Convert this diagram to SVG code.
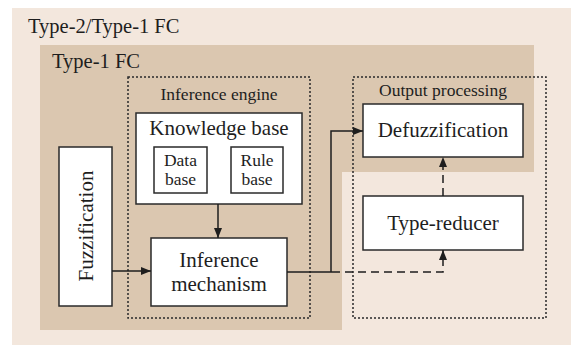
<svg xmlns="http://www.w3.org/2000/svg" width="571" height="345" viewBox="0 0 571 345">
<defs>
<style>
.box{fill:#fff;stroke:#2a2a2a;stroke-width:1.5}
.dot{fill:none;stroke:#2a2a2a;stroke-width:1.5;stroke-dasharray:2,2}
.t{font-family:"Liberation Serif","Times New Roman",serif;fill:#1e1e1e;text-anchor:middle}
.big{font-size:21px}
.sm{font-size:17.5px}
.lbl{font-family:"Liberation Serif","Times New Roman",serif;fill:#1e1e1e;font-size:20.5px}
.c{fill:none;stroke:#1e1e1e;stroke-width:1.5}
.dash{stroke-dasharray:8,5}
</style>
<marker id="ah" viewBox="0 0 10 8" refX="10" refY="4" markerWidth="10" markerHeight="8" markerUnits="userSpaceOnUse" orient="auto">
<path d="M0,0 L10,4 L0,8 Z" fill="#1e1e1e"/>
</marker>
</defs>
<g id="type2-region">
<rect x="12" y="8" width="559" height="337" fill="#f3e7dd"/>
<text class="lbl" x="28" y="33">Type-2/Type-1 FC</text>
</g>
<g id="type1-region">
<path d="M40,45 H534 V172 H342 V330 H40 Z" fill="#dbc7b0"/>
<text class="lbl" x="52" y="68">Type-1 FC</text>
</g>
<g id="inference-engine">
<rect class="dot" x="128" y="77" width="182" height="241"/>
<text class="t sm" x="219" y="100">Inference engine</text>
</g>
<g id="output-processing">
<rect class="dot" x="353" y="77" width="193" height="241"/>
<text class="t sm" x="443" y="96">Output processing</text>
</g>
<g id="knowledge-base">
<rect class="box" x="136" y="113" width="166" height="91"/>
<text class="t big" x="219" y="135">Knowledge base</text>
</g>
<g id="data-base">
<rect class="box" x="154" y="147" width="53" height="46"/>
<text class="t sm" x="180.5" y="166">Data</text>
<text class="t sm" x="180.5" y="185">base</text>
</g>
<g id="rule-base">
<rect class="box" x="231" y="147" width="52" height="46"/>
<text class="t sm" x="257" y="166">Rule</text>
<text class="t sm" x="257" y="185">base</text>
</g>
<g id="fuzzification">
<rect class="box" x="59" y="147" width="53" height="159"/>
<text class="t big" x="0" y="0" transform="translate(93,226) rotate(-90)">Fuzzification</text>
</g>
<g id="inference-mechanism">
<rect class="box" x="151" y="238" width="136" height="68"/>
<text class="t big" x="219" y="267">Inference</text>
<text class="t big" x="219" y="291">mechanism</text>
</g>
<g id="defuzzification">
<rect class="box" x="363" y="104" width="160" height="53"/>
<text class="t big" x="443" y="137">Defuzzification</text>
</g>
<g id="type-reducer">
<rect class="box" x="363" y="196" width="160" height="54"/>
<text class="t big" x="443" y="230">Type-reducer</text>
</g>
<g id="connectors">
<line class="c" x1="112" y1="271" x2="151" y2="271" marker-end="url(#ah)"/>
<line class="c" x1="218" y1="204" x2="218" y2="238" marker-end="url(#ah)"/>
<path class="c" d="M287,272 H338 M331,272 V131 H363" marker-end="url(#ah)"/>
<path class="c dash" d="M338,272 H443 V250" stroke-dashoffset="-7" marker-end="url(#ah)"/>
<line class="c dash" x1="443" y1="196" x2="443" y2="157" marker-end="url(#ah)"/>
</g>
</svg>
